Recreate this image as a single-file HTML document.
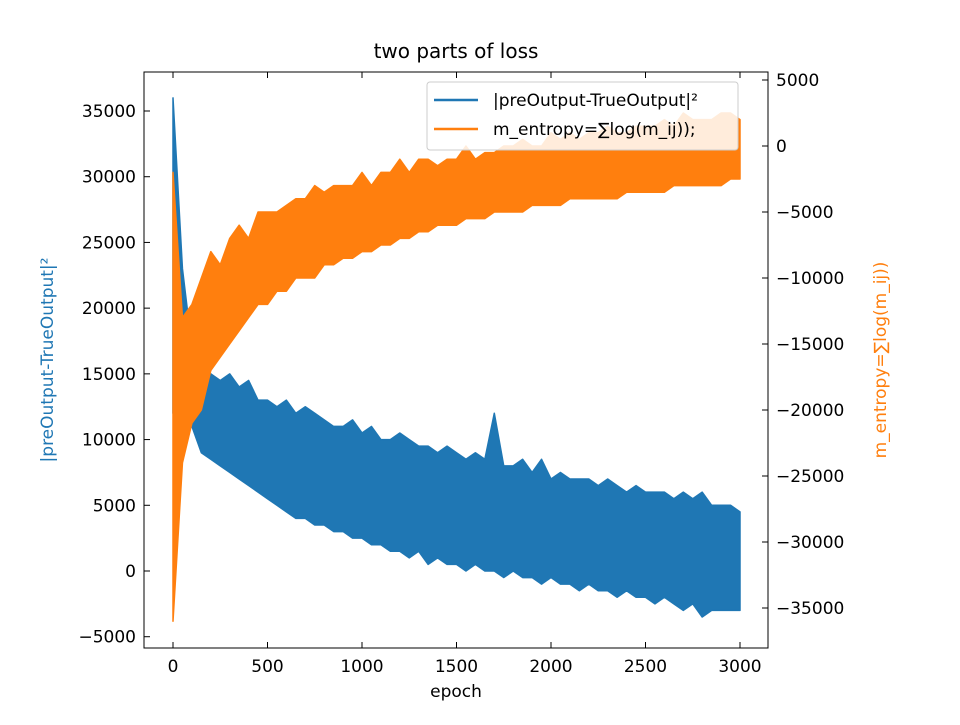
<!DOCTYPE html>
<html><head><meta charset="utf-8"><style>
body{margin:0;background:#fff;}
svg text{font-family:"DejaVu Sans","Liberation Sans",sans-serif;}
</style></head><body>
<svg id="chart" width="960" height="720" viewBox="0 0 960 720">
<rect width="960" height="720" fill="#fff"/>
<text x="456" y="58" font-size="20" text-anchor="middle">two parts of loss</text>
<g id="plot"></g>
</svg>
<script>
const epochs=[0,50,100,150,200,250,300,350,400,450,500,550,600,650,700,750,800,850,900,950,1000,1050,1100,1150,1200,1250,1300,1350,1400,1450,1500,1550,1600,1650,1700,1750,1800,1850,1900,1950,2000,2050,2100,2150,2200,2250,2300,2350,2400,2450,2500,2550,2600,2650,2700,2750,2800,2850,2900,2950,3000];
const blueHi=[36,23,17,16,15,14.5,15,14,14.5,13,13,12.5,13,12,12.5,12,11.5,11,11,11.5,10.5,11,10,10,10.5,10,9.5,9.5,9,9.5,9,8.5,9,8.5,12,8,8,8.5,7.5,8.5,7,7.5,7,7,7,6.5,7,6.5,6,6.5,6,6,6,5.5,6,5.5,6,5,5,5,4.5];
const blueLo=[12,15,11,9,8.5,8,7.5,7,6.5,6,5.5,5,4.5,4,4,3.5,3.5,3,3,2.5,2.5,2,2,1.5,1.5,1,1.5,0.5,1,0.5,0.5,0,0.5,0,0,-0.5,0,-0.5,-0.5,-1,-0.5,-1,-1,-1.5,-1,-1.5,-1.5,-2,-1.5,-2,-2,-2.5,-2,-2.5,-3,-2.5,-3.5,-3,-3,-3,-3];
const orangeHi=[-2,-13,-12,-10,-8,-9,-7,-6,-7,-5,-5,-5,-4.5,-4,-4,-3,-3.5,-3,-3,-3,-2,-3,-2,-2,-1,-2,-1,-1,-1.5,-1,-1,0,-1,-0.5,-0.5,0,0,0.5,0,0,1,0.5,1,0.5,1,1,1.5,1,1,1.5,1.5,1.5,2,1.5,2.5,2,2,2,2.5,2.5,2];
const orangeLo=[-36,-24,-21,-20,-17,-16,-15,-14,-13,-12,-12,-11,-11,-10,-10,-10,-9,-9,-8.5,-8.5,-8,-8,-7.5,-7.5,-7,-7,-6.5,-6.5,-6,-6,-6,-5.5,-5.5,-5.5,-5,-5,-5,-5,-4.5,-4.5,-4.5,-4.5,-4,-4,-4,-4,-4,-4,-3.5,-3.5,-3.5,-3.5,-3.5,-3,-3,-3,-3,-3,-3,-2.5,-2.5];
const xTicks=[0,500,1000,1500,2000,2500,3000];
const leftTicks=[-5000,0,5000,10000,15000,20000,25000,30000,35000];
const rightTicks=[-35000,-30000,-25000,-20000,-15000,-10000,-5000,0,5000];

const X=e=>173+e*(567/3000);
const YL=v=>571-v*(460/35000);
const YR=v=>146-v*(66/5000);
const NS="http://www.w3.org/2000/svg";
const g=document.getElementById('plot');
function mk(tag,attrs,parent){const el=document.createElementNS(NS,tag);for(const k in attrs)el.setAttribute(k,attrs[k]);(parent||g).appendChild(el);return el;}
const L=144,R=768,T=72,B=648;

function band(hi,lo,Y,color,name){
  let up=epochs.map((e,i)=>X(e)+','+Y(hi[i]*1000));
  let dn=epochs.map((e,i)=>X(e)+','+Y(lo[i]*1000)).reverse();
  const p=mk('polygon',{points:up.concat(dn).join(' '),fill:color,stroke:color,'stroke-width':1.5,'stroke-linejoin':'round'});
  
  
}
band(blueHi,blueLo,YL,'#1f77b4','preoutput-series');
band(orangeHi,orangeLo,YR,'#ff7f0e','entropy-series');

const frame=mk('rect',{x:L,y:T,width:R-L,height:B-T,fill:'none',stroke:'#000','stroke-width':1});



xTicks.forEach(v=>{
  mk('line',{x1:X(v),x2:X(v),y1:B,y2:B-6,stroke:'#000'});
  mk('line',{x1:X(v),x2:X(v),y1:T,y2:T+6,stroke:'#000'});
  const t=mk('text',{x:X(v),y:B+24,'font-size':17,'text-anchor':'middle'});t.textContent=v;
  
  
});
leftTicks.forEach(v=>{
  mk('line',{x1:L,x2:L+6,y1:YL(v),y2:YL(v),stroke:'#000'});
  const t=mk('text',{x:L-8,y:YL(v)+6,'font-size':17,'text-anchor':'end'});t.textContent=v<0?'\u2212'+(-v):v;
  
  
});
rightTicks.forEach(v=>{
  mk('line',{x1:R-6,x2:R,y1:YR(v),y2:YR(v),stroke:'#000'});
  const t=mk('text',{x:R+8,y:YR(v)+6,'font-size':17,'text-anchor':'start'});t.textContent=v<0?'\u2212'+(-v):v;
  
  
});
let t=mk('text',{x:456,y:697,'font-size':17,'text-anchor':'middle'});t.textContent='epoch';


t=mk('text',{x:0,y:0,'font-size':17,'text-anchor':'middle',fill:'#1f77b4',transform:'translate(53,360) rotate(-90)'});t.textContent='|preOutput-TrueOutput|\u00b2';


t=mk('text',{x:0,y:0,'font-size':17,'text-anchor':'middle',fill:'#ff7f0e',transform:'translate(886,360) rotate(-90)'});t.textContent='m_entropy=\u2211log(m_ij))';



const lg=mk('g',{});


mk('rect',{x:427,y:82,width:311,height:68,fill:'#fff','fill-opacity':0.85,stroke:'#ccc',rx:3},lg);
mk('line',{x1:434,x2:478,y1:100,y2:100,stroke:'#1f77b4','stroke-width':2.5},lg);
mk('line',{x1:434,x2:478,y1:129,y2:129,stroke:'#ff7f0e','stroke-width':2.5},lg);
t=mk('text',{x:493,y:106,'font-size':17},lg);t.textContent='|preOutput-TrueOutput|\u00b2';


t=mk('text',{x:493,y:135,'font-size':17},lg);t.textContent='m_entropy=\u2211log(m_ij));';


</script>
</body></html>
